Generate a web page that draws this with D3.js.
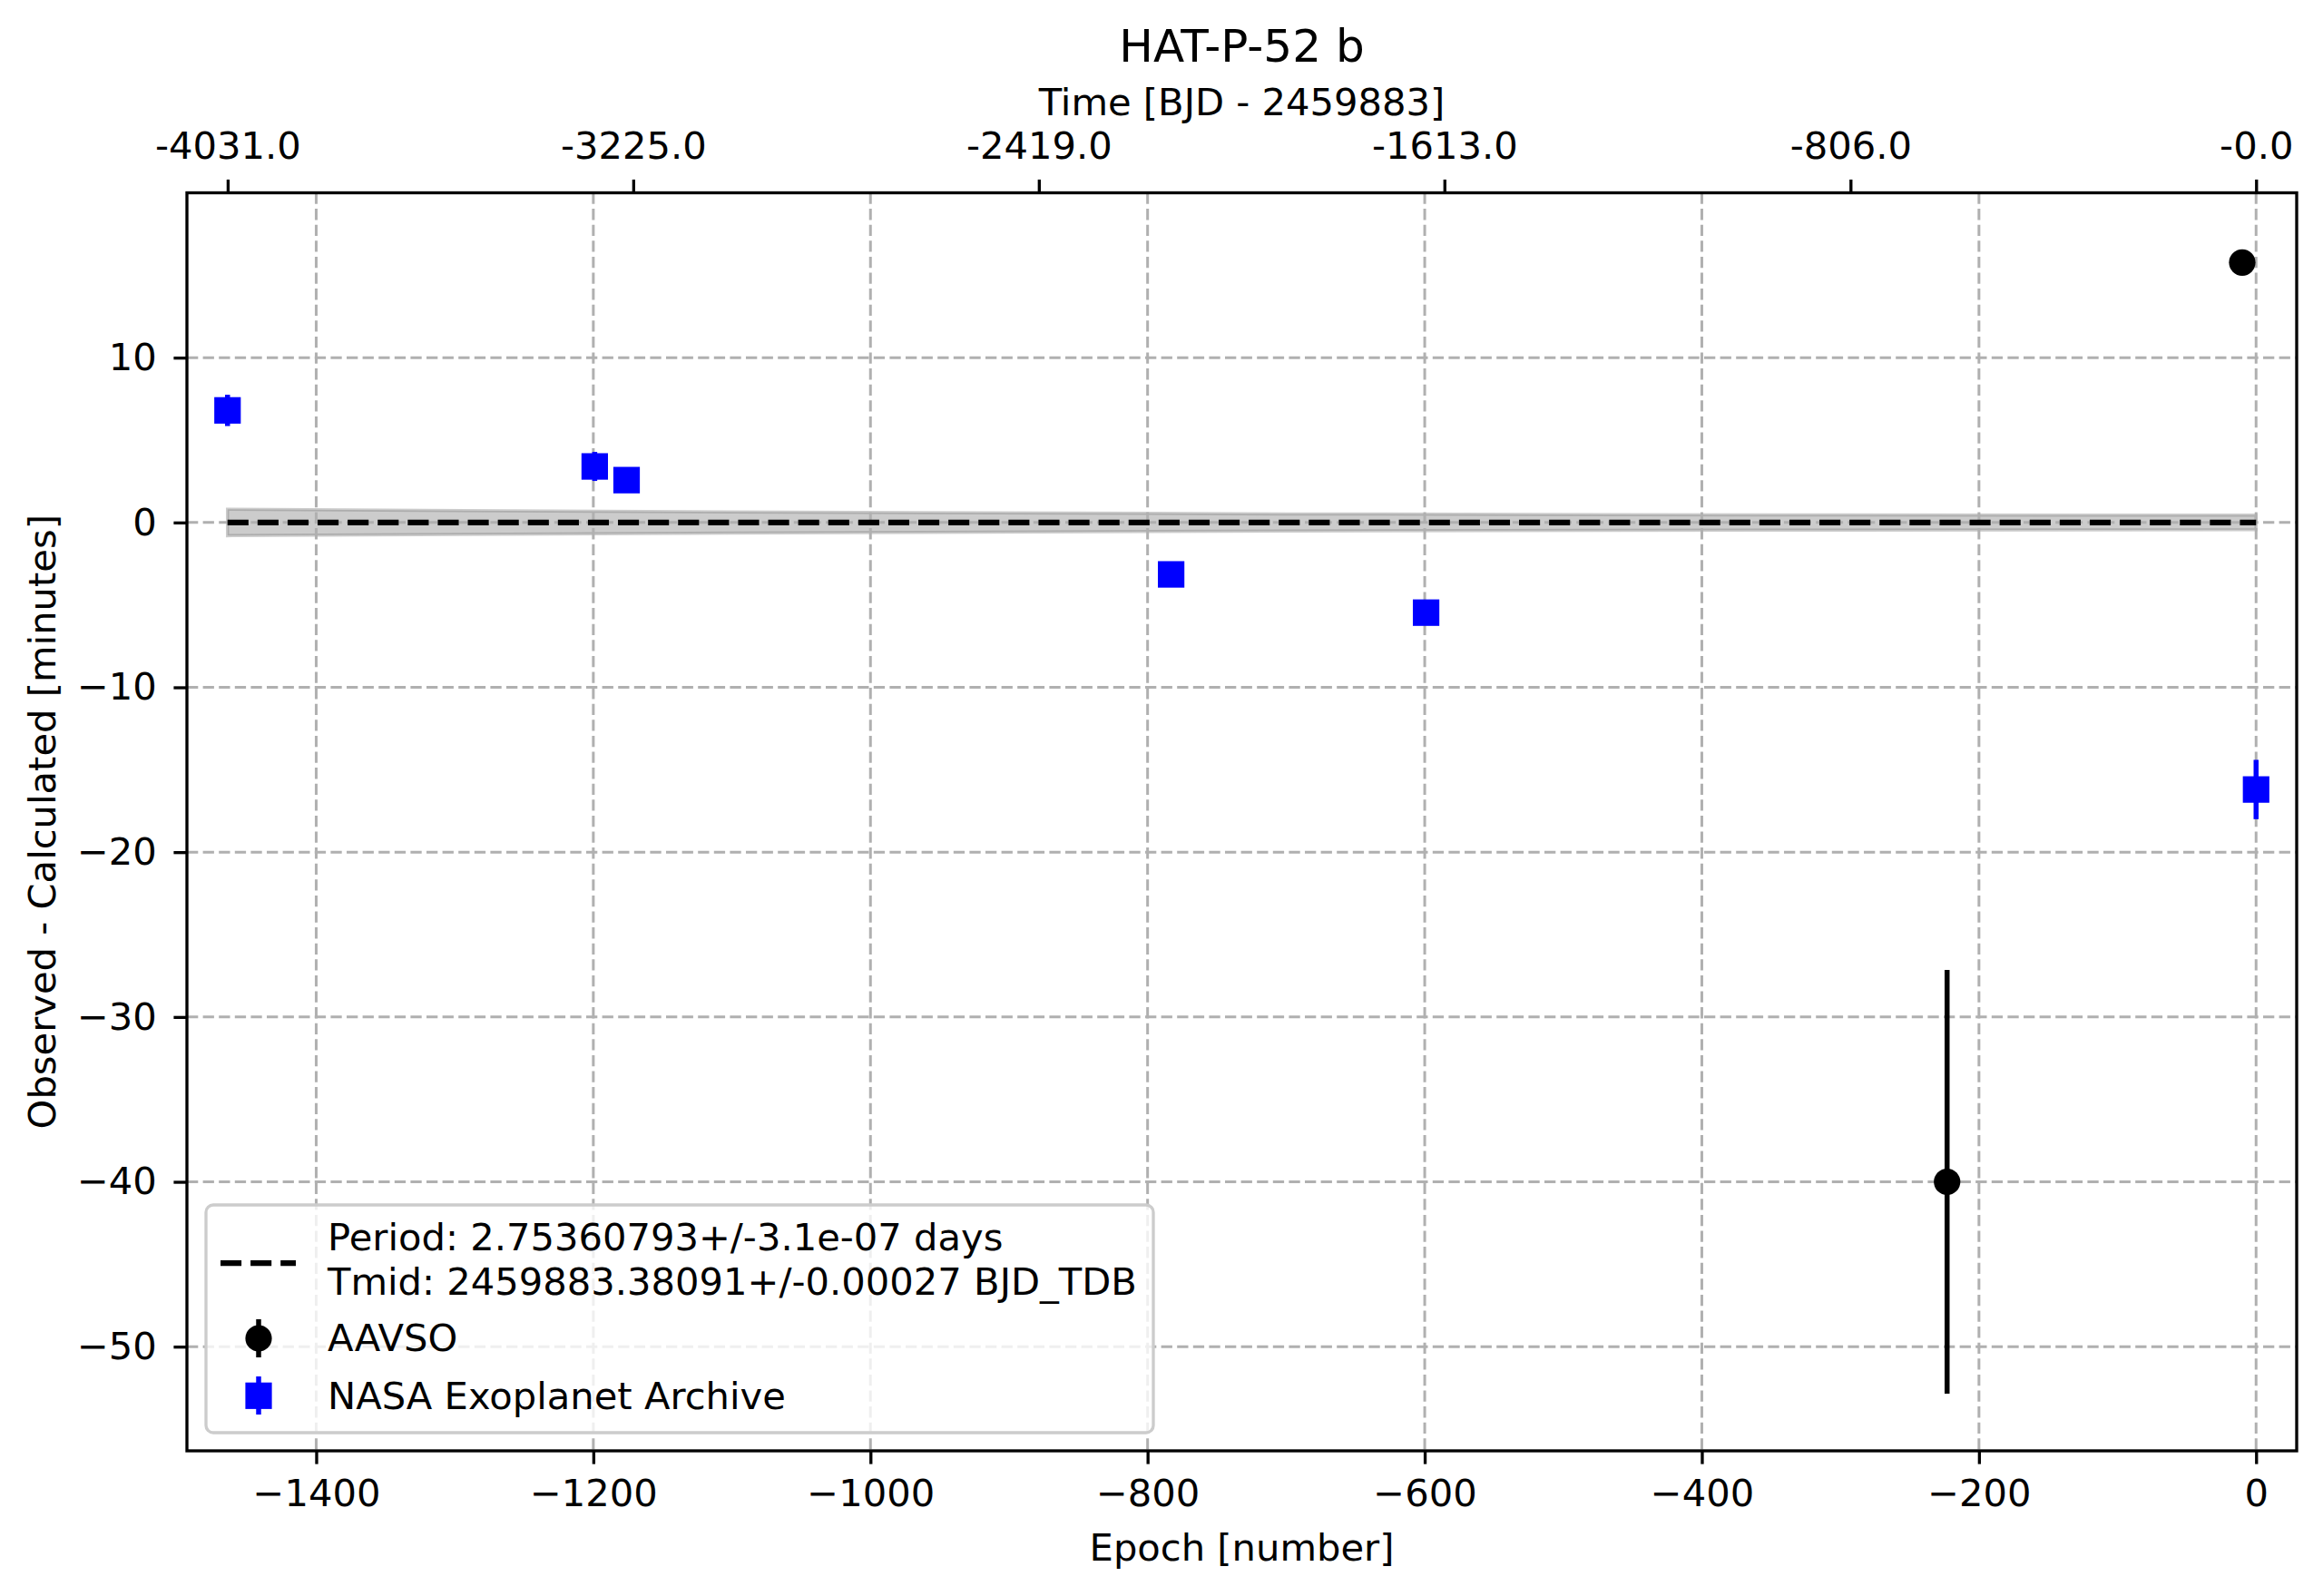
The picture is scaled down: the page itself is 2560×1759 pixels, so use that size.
<!DOCTYPE html>
<html>
<head>
<meta charset="utf-8">
<script src="https://cdn.jsdelivr.net/npm/d3@7"></script>
<style>
  body { margin: 0; background: #fff; }
  svg { display: block; font-family: "DejaVu Sans", sans-serif; }
</style>
</head>
<body>
<svg id="chart" width="2560" height="1759"></svg>
<script>
// O-C data in minutes, epochs as numbers
var nasaEpoch = [-1464, -1199, -1176, -783, -599, 0];
var nasaOC    = [6.8, 3.4, 2.57, -3.15, -5.47, -16.2];
var nasaErr   = [0.95, 0.88, 0.55, 0.3, 0.3, 1.8];

var aavsoEpoch = [-223, -10];
var aavsoOC    = [-40.0, 15.77];
var aavsoErr   = [12.85, 0.76];

// fit band (half width in minutes) read at a few epochs
var bandEpoch = [-1464, -1100, -700, -350, 0];
var bandHalf  = [0.8, 0.64, 0.52, 0.46, 0.44];

var period = 2.75360793;
var topTicks = [-4031.0, -3225.0, -2419.0, -1613.0, -806.0, 0];
var topLabels = ["-4031.0", "-3225.0", "-2419.0", "-1613.0", "-806.0", "-0.0"];
var xTicks = [-1400, -1200, -1000, -800, -600, -400, -200, 0];
var yTicks = [10, 0, -10, -20, -30, -40, -50];

var legendLines = ["Period: 2.75360793+/-3.1e-07 days", "Tmid: 2459883.38091+/-0.00027 BJD_TDB"];

var pLeft = 206, pRight = 2531, pTop = 212.5, pBottom = 1599;
var fs = 41.67;
var svg = d3.select("#chart");

var x = d3.scaleLinear().domain([-1493.3, 29.3]).range([pLeft, pRight]);
var y = d3.scaleLinear().domain([-56.32, 20.0]).range([pBottom, pTop]);

// band
var band = bandEpoch.map(function(e, i) { return {e: e, h: bandHalf[i]}; });
svg.append("path")
    .datum(band)
    .attr("d", d3.area().x(function(d) { return x(d.e); })
        .y0(function(d) { return y(-d.h); }).y1(function(d) { return y(d.h); }))
    .attr("fill", "#808080").attr("fill-opacity", 0.4)
    .attr("stroke", "#808080").attr("stroke-opacity", 0.4).attr("stroke-width", 3.5);

// grid
var grid = svg.append("g").attr("stroke", "#b0b0b0").attr("stroke-width", 3.0).attr("stroke-dasharray", "12.3,5.3");
grid.selectAll(".gx").data(xTicks).enter().append("line")
    .attr("x1", function(d) { return x(d); }).attr("x2", function(d) { return x(d); })
    .attr("y1", pTop).attr("y2", pBottom);
grid.selectAll(".gy").data(yTicks).enter().append("line")
    .attr("y1", function(d) { return y(d); }).attr("y2", function(d) { return y(d); })
    .attr("x1", pLeft).attr("x2", pRight);

// fit line
svg.append("line")
    .attr("x1", x(-1464)).attr("x2", x(0)).attr("y1", y(0)).attr("y2", y(0))
    .attr("stroke", "#000").attr("stroke-width", 6.25).attr("stroke-dasharray", "23.1,10");

// AAVSO
var aavso = aavsoEpoch.map(function(e, i) { return {e: e, v: aavsoOC[i], s: aavsoErr[i]}; });
svg.selectAll(".aerr").data(aavso).enter().append("line")
    .attr("x1", function(d) { return x(d.e); }).attr("x2", function(d) { return x(d.e); })
    .attr("y1", function(d) { return y(d.v - d.s); }).attr("y2", function(d) { return y(d.v + d.s); })
    .attr("stroke", "#000").attr("stroke-width", 5.5);
svg.selectAll(".apt").data(aavso).enter().append("circle")
    .attr("cx", function(d) { return x(d.e); }).attr("cy", function(d) { return y(d.v); })
    .attr("r", 14.6).attr("fill", "#000");

// NASA
var nasa = nasaEpoch.map(function(e, i) { return {e: e, v: nasaOC[i], s: nasaErr[i]}; });
svg.selectAll(".nerr").data(nasa).enter().append("line")
    .attr("x1", function(d) { return x(d.e); }).attr("x2", function(d) { return x(d.e); })
    .attr("y1", function(d) { return y(d.v - d.s); }).attr("y2", function(d) { return y(d.v + d.s); })
    .attr("stroke", "#0000ff").attr("stroke-width", 5.5);
svg.selectAll(".npt").data(nasa).enter().append("rect")
    .attr("x", function(d) { return x(d.e) - 14.6; }).attr("y", function(d) { return y(d.v) - 14.6; })
    .attr("width", 29.2).attr("height", 29.2).attr("fill", "#0000ff");

// axes
function styleAxis(g) {
    g.attr("font-family", "DejaVu Sans, sans-serif").attr("font-size", fs);
    g.selectAll("line").attr("stroke", "#000").attr("stroke-width", 3.33);
    g.selectAll("text").attr("fill", "#000");
    g.select(".domain").remove();
}
svg.append("g").attr("transform", "translate(0," + pBottom + ")")
    .call(d3.axisBottom(x).tickValues(xTicks).tickSize(14.6).tickPadding(16.8).tickFormat(d3.format("d")))
    .call(styleAxis);
svg.append("g").attr("transform", "translate(" + pLeft + ",0)")
    .call(d3.axisLeft(y).tickValues(yTicks).tickSize(14.6).tickPadding(18.6).tickFormat(d3.format("d")))
    .call(styleAxis);
svg.append("g").attr("transform", "translate(0," + pTop + ")")
    .call(d3.axisTop(x).tickValues(topTicks.map(function(t) { return t / period; }))
        .tickSize(14.6).tickPadding(23).tickFormat(function(d, i) { return topLabels[i]; }))
    .call(styleAxis);

// frame
svg.append("rect").attr("x", pLeft).attr("y", pTop).attr("width", pRight - pLeft).attr("height", pBottom - pTop)
    .attr("fill", "none").attr("stroke", "#000").attr("stroke-width", 3.33);

// titles
var cx = (pLeft + pRight) / 2;
svg.append("text").attr("x", cx).attr("y", 68).attr("text-anchor", "middle").attr("font-size", 50).text("HAT-P-52 b");
svg.append("text").attr("x", cx).attr("y", 126.5).attr("text-anchor", "middle").attr("font-size", fs).text("Time [BJD - 2459883]");
svg.append("text").attr("x", cx).attr("y", 1720).attr("text-anchor", "middle").attr("font-size", fs).text("Epoch [number]");
svg.append("text").attr("transform", "translate(61," + ((pTop + pBottom) / 2) + ") rotate(-90)")
    .attr("text-anchor", "middle").attr("font-size", fs).text("Observed - Calculated [minutes]");

// legend
var lg = svg.append("g");
lg.append("rect").attr("x", 227).attr("y", 1328).attr("width", 1044).attr("height", 251).attr("rx", 8)
    .attr("fill", "#fff").attr("fill-opacity", 0.8).attr("stroke", "#cccccc").attr("stroke-width", 3.33);
lg.append("line").attr("x1", 243).attr("x2", 326).attr("y1", 1392).attr("y2", 1392)
    .attr("stroke", "#000").attr("stroke-width", 6.25).attr("stroke-dasharray", "23.1,10");
lg.selectAll(".lt").data(legendLines).enter().append("text")
    .attr("x", 361).attr("y", function(d, i) { return 1378 + i * 48.7; })
    .attr("font-size", fs).text(function(d) { return d; });
lg.append("line").attr("x1", 285).attr("x2", 285).attr("y1", 1454).attr("y2", 1496).attr("stroke", "#000").attr("stroke-width", 5.5);
lg.append("circle").attr("cx", 285).attr("cy", 1475).attr("r", 14.6).attr("fill", "#000");
lg.append("text").attr("x", 361).attr("y", 1489).attr("font-size", fs).text("AAVSO");
lg.append("line").attr("x1", 285).attr("x2", 285).attr("y1", 1517).attr("y2", 1559).attr("stroke", "#0000ff").attr("stroke-width", 5.5);
lg.append("rect").attr("x", 270.4).attr("y", 1523.7).attr("width", 29.2).attr("height", 29.2).attr("fill", "#0000ff");
lg.append("text").attr("x", 361).attr("y", 1552.7).attr("font-size", fs).text("NASA Exoplanet Archive");
</script>
</body>
</html>
